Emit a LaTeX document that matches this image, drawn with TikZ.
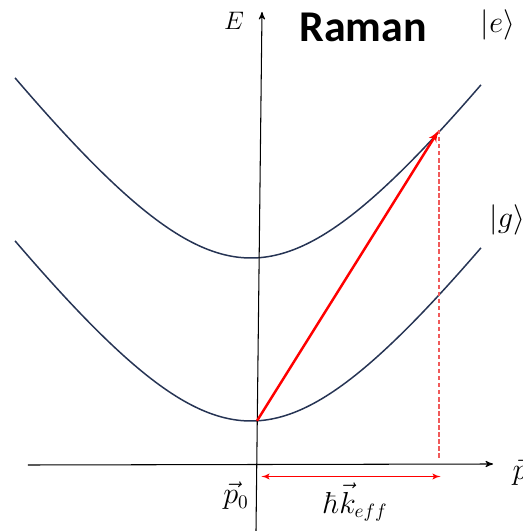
\documentclass[tikz,border=0pt]{standalone}
\usepackage{amsmath}
\usepackage{amssymb}
\usepackage{fontspec}
\newfontfamily\titlefont{Carlito}
\usepackage{tikz}
\usetikzlibrary{calc}
\usetikzlibrary{arrows}
\definecolor{bandblue}{RGB}{38,52,84}
\definecolor{dropred}{RGB}{240,90,90}
\tikzset{
  band/.style={bandblue,line width=0.85pt,samples=90,smooth,variable=\x},
  lbl/.style={font=\fontsize{16}{18}\selectfont, inner sep=0},
  kick/.style={red,line width=1.4pt,-latex'},
}

\begin{document}
\begin{tikzpicture}[x=1cm,y=1cm]
\useasboundingbox (-5.14,-1.32) rectangle (5.32,9.30);
% dispersion curves
\draw[band,domain=-4.84:4.48] plot (\x, {0.88+sqrt(4.032^2+1.887*(\x+0.12)^2)-4.032});
\draw[band,domain=-4.84:4.48] plot (\x, {4.14+sqrt(4.032^2+1.887*(\x+0.12)^2)-4.032});
% axes
\coordinate (pl) at (-4.58,0);
\coordinate (pr) at (4.72,0.02);
\coordinate (eb) at (-0.02,-1.32);
\coordinate (et) at (0.10,9.06);
\draw[black,line width=0.6pt,->,>=stealth'] (pl)--(pr) node[lbl, anchor=west, xshift=0.38cm, yshift=-1.6mm] (plab) {$\vec{p}$};
\draw[black,line width=0.6pt,->,>=stealth'] (eb)--(et);
\node[lbl, font=\fontsize{14}{16}\selectfont] (elab) at (-0.46,8.88) {$E$};
\node[inner sep=0] (title) at (2.12,8.76) {\titlefont\bfseries\fontsize{25}{29}\selectfont Raman};
\node[lbl] (ket e) at (4.82,8.80) {$|e\rangle$};
\node[lbl, anchor=west] (ket g) at (4.64,4.90) {$|g\rangle$};
% Raman transition
\coordinate (start) at (0,{0.88+sqrt(4.032^2+1.887*0.12^2)-4.032});
\coordinate (stop) at (3.64,6.70);
\draw[kick] (start)--(stop);
\coordinate (foot) at (3.64,0.14);
\draw[draw=dropred,line width=0.7pt,dash pattern=on 2.5pt off 1.5pt] (stop)--(foot);
\coordinate (kl) at (0.09,-0.23);
\coordinate (kr) at (3.67,-0.23);
\draw[red,line width=0.6pt,latex'-latex'] (kl)--(kr);
\node[lbl, anchor=north] (p0) at (-0.42,-0.33) {$\vec{p}_0$};
\node[lbl, anchor=north] (hk) at (1.98,-0.36) {$\hbar\vec{k}_{eff}$};
\end{tikzpicture}
\end{document}
